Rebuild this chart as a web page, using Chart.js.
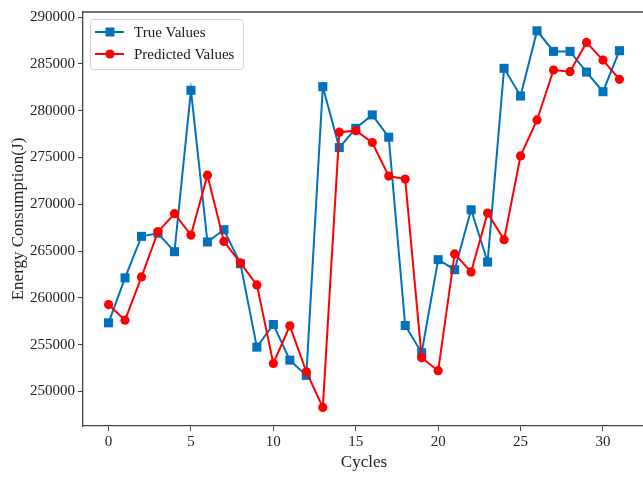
<!DOCTYPE html>
<html lang="en">
  <head>
    <meta charset="UTF-8" />
    <title>Energy Consumption per Cycle</title>
    <script src="https://cdn.jsdelivr.net/npm/chart.js@4.4.1/dist/chart.umd.min.js"></script>
    <style>
      html, body { margin: 0; padding: 0; background: #fff; overflow: hidden; }
      canvas { display: block; }
    </style>
  </head>
  <body>
    <!-- a few px wider than the window so the right spine falls just outside -->
    <canvas id="myChart" width="646" height="477"></canvas>
    <script>
      // cycle index for each measurement
      const cycles = [0, 1, 2, 3, 4, 5, 6, 7, 8, 9, 10, 11, 12, 13, 14, 15,
        16, 17, 18, 19, 20, 21, 22, 23, 24, 25, 26, 27, 28, 29, 30, 31];

      const trueValues = [257330, 262130, 266570, 266900, 264930, 282180, 265970, 267280,
        263650, 254730, 257150, 253340, 251710, 282570, 276060, 278120,
        279550, 277170, 257040, 254130, 264080, 263010, 269410, 263830,
        284530, 281570, 288540, 286340, 286340, 284130, 282030, 286410];

      const predictedValues = [259280, 257610, 262230, 267070, 268990, 266710, 273110, 266030,
        263730, 261380, 252990, 257010, 252100, 248290, 277700, 277870,
        276600, 273010, 272690, 253600, 252210, 264690, 262770, 269060,
        266210, 275170, 279010, 284350, 284170, 287300, 285410, 283350];

      const xTicks = [0, 5, 10, 15, 20, 25, 30];
      const yTicks = [250000, 255000, 260000, 265000, 270000, 275000, 280000, 285000, 290000];

      const serif = "'Liberation Serif', 'DejaVu Serif', serif";
      const axisColor = "#444";

      // top/right spines, matplotlib style
      const frame = {
        id: "frame",
        afterDraw(chart) {
          const { ctx, chartArea: a } = chart;
          ctx.save();
          ctx.strokeStyle = axisColor;
          ctx.lineWidth = 1.3;
          ctx.beginPath();
          ctx.moveTo(a.left, a.top);
          ctx.lineTo(a.right, a.top);
          ctx.lineTo(a.right, a.bottom);
          ctx.stroke();
          ctx.restore();
        },
      };

      // legend box in the upper-left corner of the plot
      const innerLegend = {
        id: "innerLegend",
        afterDraw(chart) {
          const { ctx, chartArea: a } = chart;
          const x = a.left + 7, y = a.top + 7, w = 153, h = 50;
          ctx.save();
          ctx.fillStyle = "rgba(255,255,255,0.8)";
          ctx.strokeStyle = "#d2d2d2";
          ctx.lineWidth = 1;
          ctx.beginPath();
          ctx.roundRect(x + 0.5, y + 0.5, w, h, 3);
          ctx.fill();
          ctx.stroke();
          chart.data.datasets.forEach((ds, i) => {
            const cy = y + 13 + i * 22;
            ctx.strokeStyle = ds.borderColor;
            ctx.lineWidth = ds.borderWidth;
            ctx.beginPath();
            ctx.moveTo(x + 5, cy);
            ctx.lineTo(x + 34, cy);
            ctx.stroke();
            ctx.fillStyle = ds.pointBackgroundColor;
            ctx.strokeStyle = ds.pointBorderColor;
            Chart.helpers.drawPoint(ctx, {
              pointStyle: ds.pointStyle, radius: ds.pointRadius, rotation: 0, borderWidth: 0,
            }, x + 20, cy);
            ctx.fillStyle = "#1a1a1a";
            ctx.font = "15px " + serif;
            ctx.textBaseline = "middle";
            ctx.fillText(ds.label, x + 44, cy + 1);
          });
          ctx.restore();
        },
      };

      new Chart(document.getElementById("myChart"), {
        type: "line",
        data: {
          datasets: [
            {
              label: "True Values",
              data: cycles.map((c, i) => ({ x: c, y: trueValues[i] })),
              borderColor: "#0072bd",
              borderWidth: 2,
              pointStyle: "rect",
              pointRadius: 6.4,
              pointBorderWidth: 0,
              pointBackgroundColor: "#0072bd",
              pointBorderColor: "#0072bd",
              order: 1,
            },
            {
              label: "Predicted Values",
              data: cycles.map((c, i) => ({ x: c, y: predictedValues[i] })),
              borderColor: "#ff0000",
              borderWidth: 2,
              pointStyle: "circle",
              pointRadius: 4.6,
              pointBorderWidth: 0,
              pointBackgroundColor: "#ff0000",
              pointBorderColor: "#ff0000",
              order: 0,
            },
          ],
        },
        options: {
          responsive: false,
          animation: false,
          devicePixelRatio: 1,
          layout: { autoPadding: false, padding: { top: 12, right: 1, left: 0, bottom: 0 } },
          plugins: { legend: { display: false }, tooltip: { enabled: false } },
          scales: {
            x: {
              type: "linear",
              min: -1.55,
              max: 32.55,
              afterBuildTicks: (s) => { s.ticks = xTicks.map((v) => ({ value: v })); },
              afterFit: (s) => { s.height = 51; },
              grid: { drawOnChartArea: false, drawTicks: true, tickLength: 5, color: axisColor },
              border: { display: true, color: axisColor, width: 1.3 },
              ticks: { font: { family: serif, size: 15 }, color: "#222", padding: 2, maxRotation: 0 },
              title: {
                display: true, text: "Cycles", color: "#222",
                font: { family: serif, size: 17, lineHeight: 1.2 }, padding: { top: 0, bottom: 4 },
              },
            },
            y: {
              min: 246300,
              max: 290550,
              afterBuildTicks: (s) => { s.ticks = yTicks.map((v) => ({ value: v })); },
              afterFit: (s) => { s.width = 83; },
              grid: { drawOnChartArea: false, drawTicks: true, tickLength: 5, color: axisColor },
              border: { display: true, color: axisColor, width: 1.3 },
              ticks: {
                font: { family: serif, size: 15 }, color: "#222", padding: 3,
                callback: (v) => String(v),
              },
              title: {
                display: true, text: "Energy Consumption(J)", color: "#222",
                font: { family: serif, size: 17, lineHeight: 1.2 }, padding: { top: 8, bottom: 0 },
              },
            },
          },
        },
        plugins: [frame, innerLegend],
      });
    </script>
  </body>
</html>
